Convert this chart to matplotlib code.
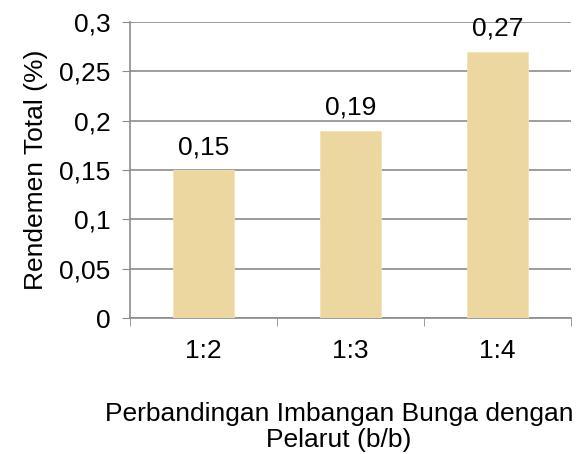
import numpy as np
import matplotlib
matplotlib.use("Agg")
import matplotlib.pyplot as plt
from matplotlib.ticker import MultipleLocator, FixedLocator

plt.rcParams["font.family"] = ["Liberation Sans", "DejaVu Sans"]

categories = ["1:2", "1:3", "1:4"]
values = [0.15, 0.19, 0.27]
labels = ["0,15", "0,19", "0,27"]

GRID = "#8C8C8C"
BAR = "#EDD7A0"
FS = 19

fig = plt.figure(figsize=(5.8, 4.54), dpi=100)
ax = fig.add_axes([130/580, 1-318/454, 441/580, 296/454])

x = np.arange(len(categories))
ax.bar(x, values, width=0.41, color=BAR, edgecolor="#F2E2B8", linewidth=0.6, zorder=3)
for xi, v, t in zip(x, values, labels):
    ax.text(xi, v + 0.011, t, ha="center", va="bottom", fontsize=FS, color="#000000")

ax.set_xlim(-0.5, 2.5)
ax.set_ylim(0, 0.3)
ax.yaxis.set_major_locator(MultipleLocator(0.05))
ax.set_yticklabels([f"{t:g}".replace(".", ",") for t in ax.get_yticks()])
ax.set_xticks(x)
ax.set_xticklabels(categories)
ax.xaxis.set_minor_locator(FixedLocator([-0.5, 0.5, 1.5, 2.5]))
ax.tick_params(axis="x", which="major", length=0, labelsize=FS, pad=15)
ax.tick_params(axis="x", which="minor", length=6, color=GRID, direction="out")
ax.tick_params(axis="y", length=6, color=GRID, labelsize=FS, pad=8)
ax.grid(axis="y", color=GRID, lw=1.2, zorder=0)
ax.set_axisbelow(True)
for sp in ("top", "right"):
    ax.spines[sp].set_visible(False)
for sp in ("left", "bottom"):
    ax.spines[sp].set_color(GRID)
    ax.spines[sp].set_linewidth(1.2)

ax.set_ylabel("Rendemen Total (%)", fontsize=FS, labelpad=8)
fig.text(339/580, 1-427/454, "Perbandingan Imbangan Bunga dengan\nPelarut (b/b)",
         ha="center", va="center", fontsize=FS, linespacing=1.12)

fig.savefig("out.png", dpi=100, facecolor="white")
